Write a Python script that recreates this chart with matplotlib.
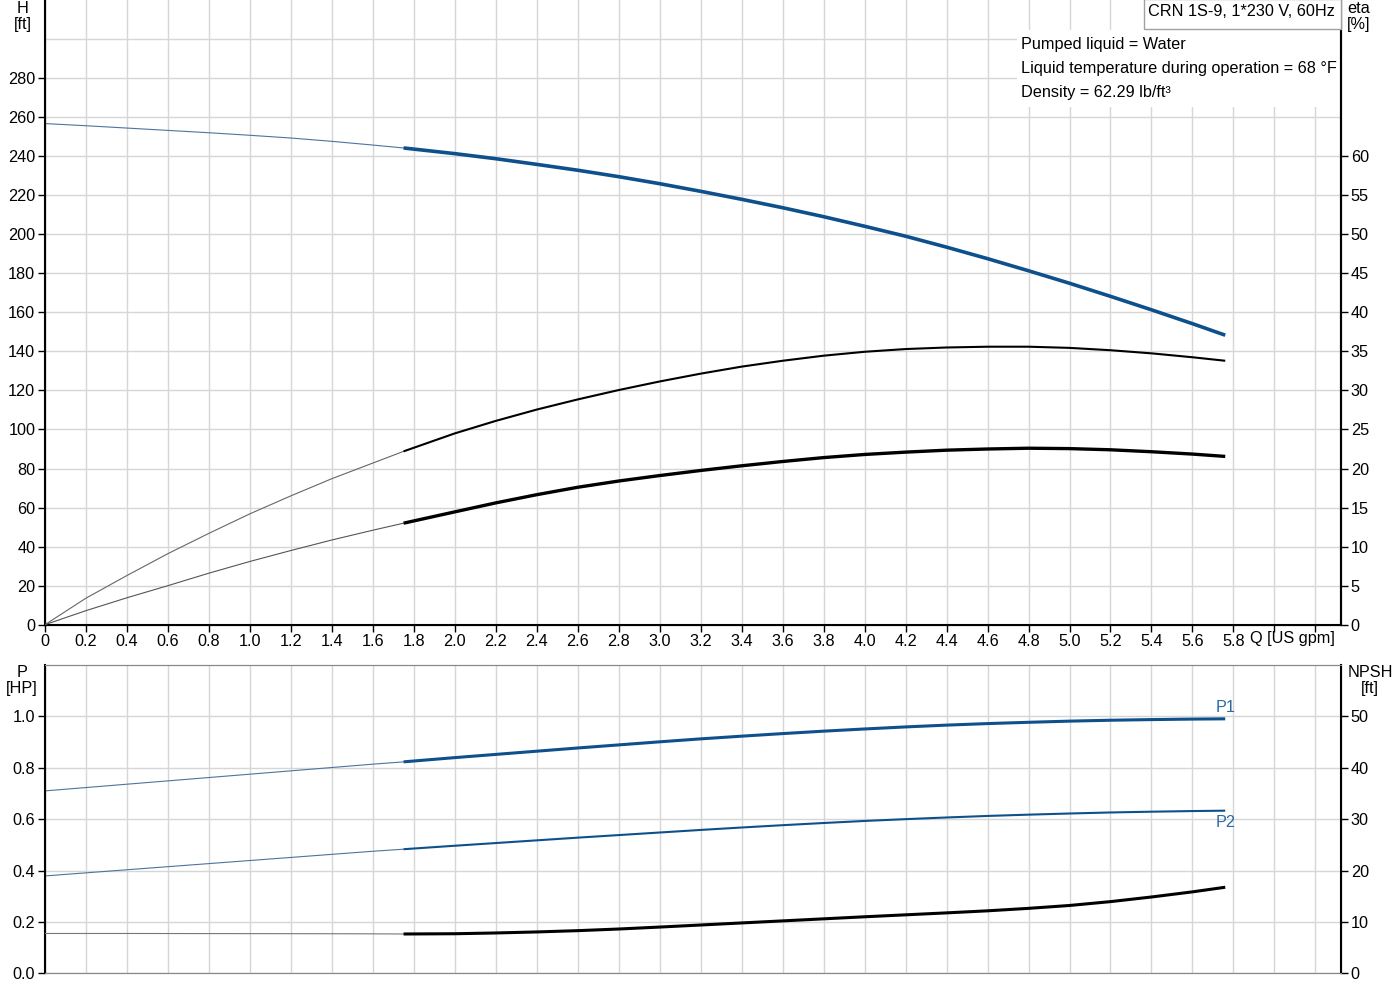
import numpy as np
import matplotlib
matplotlib.use("Agg")
import matplotlib.pyplot as plt
from matplotlib.patches import Rectangle

plt.rcParams['font.family'] = ['Liberation Sans', 'DejaVu Sans']
plt.rcParams['font.size'] = 11.7

# flow [US gpm]
q = [0, 0.2, 0.4, 0.6, 0.8, 1.0, 1.2, 1.4, 1.6, 1.75, 2.0, 2.2, 2.4, 2.6, 2.8,
     3.0, 3.2, 3.4, 3.6, 3.8, 4.0, 4.2, 4.4, 4.6, 4.8, 5.0, 5.2, 5.4, 5.6, 5.76]
# head [ft]
head = [256.7, 255.6, 254.4, 253.2, 252.0, 250.7, 249.3, 247.6, 245.7, 244.2,
        241.3, 238.7, 235.8, 232.8, 229.5, 225.9, 222.0, 217.9, 213.6, 209.0,
        204.1, 199.0, 193.4, 187.5, 181.3, 174.9, 168.2, 161.3, 154.2, 148.3]
# efficiencies [%]
eta_pump = [0, 3.4, 6.3, 9.1, 11.7, 14.2, 16.5, 18.7, 20.7, 22.2,
            24.5, 26.1, 27.55, 28.85, 30.05, 31.15, 32.15, 33.05, 33.8, 34.45,
            34.95, 35.3, 35.5, 35.6, 35.6, 35.45, 35.15, 34.75, 34.25, 33.8]
eta_total = [0, 1.8, 3.45, 5.0, 6.6, 8.1, 9.5, 10.85, 12.1, 13.0,
             14.45, 15.6, 16.65, 17.6, 18.4, 19.1, 19.75, 20.35, 20.9, 21.4,
             21.8, 22.1, 22.35, 22.5, 22.6, 22.55, 22.4, 22.15, 21.85, 21.55]
# power [HP]
p1 = [0.710, 0.723, 0.736, 0.749, 0.762, 0.775, 0.788, 0.801, 0.814, 0.823,
      0.8395, 0.852, 0.8645, 0.877, 0.889, 0.901, 0.9125, 0.923, 0.933, 0.9425,
      0.951, 0.959, 0.966, 0.972, 0.977, 0.9815, 0.985, 0.9875, 0.9895, 0.9905]
p2 = [0.379, 0.391, 0.403, 0.415, 0.427, 0.439, 0.451, 0.463, 0.475, 0.483,
      0.4965, 0.507, 0.5175, 0.528, 0.538, 0.548, 0.558, 0.5675, 0.5765, 0.585,
      0.593, 0.600, 0.6065, 0.6125, 0.6175, 0.622, 0.626, 0.629, 0.6315, 0.633]
# NPSH [ft]
npsh = [7.75, 7.75, 7.75, 7.74, 7.73, 7.72, 7.71, 7.70, 7.68, 7.65,
        7.70, 7.85, 8.05, 8.3, 8.62, 9.0, 9.4, 9.8, 10.2, 10.6,
        11.0, 11.38, 11.76, 12.16, 12.64, 13.2, 13.95, 14.85, 15.85, 16.75]

title = "CRN 1S-9, 1*230 V, 60Hz"
info = ["Pumped liquid = Water",
        "Liquid temperature during operation = 68 °F",
        "Density = 62.29 lb/ft³"]

blue = '#0e508c'
grid_c = '#d6d6d6'
k = q.index(1.75)

def split_plot(ax, y, color, thin_color, lw):
    ax.plot(q[:k + 1], y[:k + 1], color=thin_color, lw=0.8, zorder=3)
    ax.plot(q[k:], y[k:], color=color, lw=lw, zorder=3, solid_capstyle='butt')

xmax = 6.325
xt = np.round(np.arange(0, 6.21, 0.2), 1)

fig = plt.figure(figsize=(14, 10), dpi=100)
L, W = 45 / 1400, 1296 / 1400

# ---- top: head / efficiency
ax1 = fig.add_axes([L, 1 - 624.7 / 1000, W, 624.7 / 1000])
ax1.set_xlim(0, xmax)
ax1.set_ylim(0, 320)
ax1.set_xticks(xt)
ax1.set_xticklabels(['0'] + [f'{v:.1f}' if v <= 5.81 else '' for v in xt[1:]])
ax1.set_yticks(np.arange(0, 281, 20))
ax1.set_axisbelow(True)
ax1.grid(True, color=grid_c, lw=1)
ax1.axhline(300, color=grid_c, lw=1, zorder=0.5)
ax1.tick_params(length=5, width=1, color='black', pad=2)
ax1.spines['top'].set_visible(False)
for s in ['left', 'bottom', 'right']:
    ax1.spines[s].set_linewidth(1.5)
split_plot(ax1, head, blue, '#4f739c', 2.6)

ax1.add_patch(Rectangle((0.75, 0.8287), 0.25, 0.1235, transform=ax1.transAxes,
                        facecolor='white', edgecolor='none', zorder=1))

ax2 = ax1.twinx()
ax2.set_ylim(0, 80)
ax2.set_yticks(np.arange(0, 61, 5))
ax2.tick_params(length=5, width=1, pad=2)
ax2.spines['top'].set_visible(False)
ax2.spines['right'].set_linewidth(1.5)
split_plot(ax2, eta_pump, 'black', '#666666', 1.5)
split_plot(ax2, eta_total, 'black', '#555555', 2.4)

fig.text(1292 / 1400, 1 - 638 / 1000, "Q [US gpm]", ha='center', va='center')
fig.text(23 / 1400, 0.999, "H\n[ft]", ha='center', va='top', linespacing=1.1)
fig.text(1359 / 1400, 0.999, "eta\n[%]", ha='center', va='top', linespacing=1.1)

fig.patches.append(Rectangle((1144 / 1400, 1 - 29 / 1000), 197 / 1400, 0.03,
                             transform=fig.transFigure, facecolor='white',
                             edgecolor='#a0a0a0', lw=1, zorder=5))
fig.text(1241 / 1400, 1 - 12 / 1000, title, ha='center', va='center', zorder=6)
for i, line in enumerate(info):
    fig.text(1021 / 1400, 1 - (44 + 24 * i) / 1000, line, ha='left', va='center', zorder=6)

# ---- bottom: power / NPSH
ax3 = fig.add_axes([L, 1 - 973.3 / 1000, W, 308.3 / 1000])
ax3.set_xlim(0, xmax)
ax3.set_ylim(0, 1.2)
ax3.set_xticks(xt)
ax3.set_xticklabels([])
ax3.set_yticks(np.arange(0, 1.01, 0.2))
ax3.set_yticklabels([f'{v:.1f}' for v in np.arange(0, 1.01, 0.2)])
ax3.set_axisbelow(True)
ax3.grid(True, color=grid_c, lw=1)
ax3.tick_params(axis='y', length=5, width=1, pad=2)
ax3.tick_params(axis='x', length=0)
ax3.spines['left'].set_linewidth(1.5)
ax3.spines['bottom'].set_color('#888888')
ax3.spines['top'].set_color('#888888')
split_plot(ax3, p1, blue, '#4f739c', 2.2)
split_plot(ax3, p2, blue, '#4f739c', 1.5)
ax3.text(q[-1], p1[-1] + 0.015, "P1", color='#2a6aa8', ha='center', va='bottom')
ax3.text(q[-1], p2[-1] - 0.015, "P2", color='#2a6aa8', ha='center', va='top')

ax4 = ax3.twinx()
ax4.set_ylim(0, 60)
ax4.set_yticks(np.arange(0, 51, 10))
ax4.tick_params(length=5, width=1, pad=2)
ax4.spines['right'].set_linewidth(1.5)
ax4.spines['top'].set_color('#888888')
ax4.spines['bottom'].set_color('#888888')
split_plot(ax4, npsh, 'black', '#777777', 2.2)

fig.text(22 / 1400, 1 - 665 / 1000, "P\n[HP]", ha='center', va='top', linespacing=1.1)
fig.text(1370 / 1400, 1 - 665 / 1000, "NPSH\n[ft]", ha='center', va='top', linespacing=1.1)

plt.savefig("out.png", dpi=100)
